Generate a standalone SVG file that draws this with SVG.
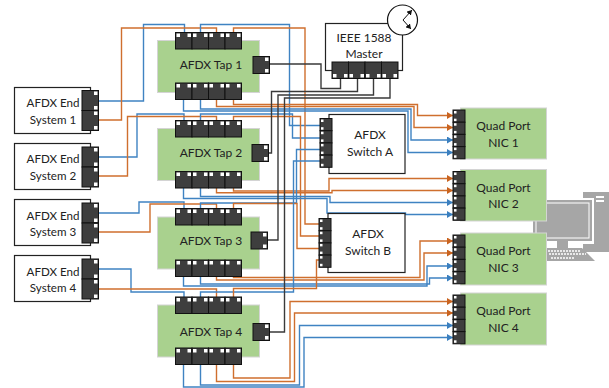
<svg xmlns="http://www.w3.org/2000/svg" width="609" height="388" viewBox="0 0 609 388">
<style>
text{font-family:Lato,"Liberation Sans",sans-serif;font-size:12px;fill:#222;text-anchor:middle}
.e{font-size:11.6px}
.g{fill:#a9d18e;stroke:#d4d4d4;stroke-width:1}
.b{fill:#fff;stroke:#222;stroke-width:1.2}
#connectors polyline{fill:none;stroke-width:1.4}
.o{stroke:#cf6f2e}
.u{stroke:#3f83c2}
.k{stroke:#3a3a3a}
.pc{fill:#3e3e3e;stroke:#111;stroke-width:1}
.w{fill:#fff}
.a{fill:#a6a6a6}
</style>
<defs>
<marker id="ao" markerWidth="7" markerHeight="7" refX="6" refY="3.5" orient="auto" markerUnits="userSpaceOnUse"><path d="M0 0L6 3.5L0 7z" fill="#c9631f"/></marker>
<marker id="au" markerWidth="7" markerHeight="7" refX="6" refY="3.5" orient="auto" markerUnits="userSpaceOnUse"><path d="M0 0L6 3.5L0 7z" fill="#3a7fbf"/></marker>
<marker id="ak" markerWidth="6" markerHeight="6" refX="5" refY="3" orient="auto-start-reverse" markerUnits="userSpaceOnUse"><path d="M0 0L5 3L0 6z" fill="#111"/></marker>
<g id="pu"><rect class="pc" width="16.5" height="16.5"/><rect class="w" x="1" y="1" width="3.5" height="3.5"/><rect class="w" x="12" y="1" width="3.5" height="3.5"/></g>
<g id="pd"><rect class="pc" width="16.5" height="16.5"/><rect class="w" x="1" y="12" width="3.5" height="3.5"/><rect class="w" x="12" y="12" width="3.5" height="3.5"/></g>
<g id="pr"><rect class="pc" width="16.5" height="17"/><rect class="w" x="12" y="1" width="3.5" height="3.5"/><rect class="w" x="12" y="12.5" width="3.5" height="3.5"/></g>
<g id="pe"><rect class="pc" width="16.5" height="20"/><rect class="w" x="12" y="1" width="3.5" height="3.5"/><rect class="w" x="12" y="15.5" width="3.5" height="3.5"/></g>
<g id="pl"><rect class="pc" width="12" height="12.2"/><rect class="w" x="1" y="1" width="2.5" height="2.5"/><rect class="w" x="1" y="8.7" width="2.5" height="2.5"/></g>
<g id="q"><use href="#pl"/><use href="#pl" y="12.2"/><use href="#pl" y="24.4"/><use href="#pl" y="36.6"/></g>
<g id="t"><use href="#pu" x="175.5"/><use href="#pu" x="192"/><use href="#pu" x="208.5"/><use href="#pu" x="225"/></g>
</defs>
<g id="computer">
<rect class="a" x="583" y="192" width="26" height="60"/>
<rect class="w" x="596" y="196" width="8" height="2"/><rect class="w" x="596" y="200" width="8" height="2"/>
<rect x="531" y="198" width="63" height="46" fill="#fff"/>
<rect class="a" x="533" y="200" width="59" height="41"/>
<rect x="536" y="203" fill="none" stroke="#fff" stroke-width="1" width="53" height="35"/>
<rect class="a" x="557" y="241" width="11" height="7"/>
<path class="a" d="M546 248H582L595 261H546z"/>
<path d="M548 251H581M549 254H586M551 258H574" stroke="#fff" stroke-width="1.5" stroke-dasharray="2 1" fill="none"/>
</g>
<g id="connectors">
<polyline class="u" points="98,101 143.5,101 143.5,24.5 184.5,24.5 184.5,32"/>
<polyline class="o" points="98,120 121.5,120 121.5,28 216.5,28 216.5,32"/>
<polyline class="u" points="200.5,32 200.5,24.5 289.5,24.5 289.5,125.5 320,125.5"/>
<polyline class="o" points="233.5,32 233.5,28 305,28 305,224 319,224"/>
<polyline class="o" points="233.5,99 233.5,104.5 417.5,104.5 417.5,115.5 453,115.5" marker-end="url(#ao)"/>
<polyline class="o" points="216.5,99 216.5,106.5 414,106.5 414,127.5 453,127.5" marker-end="url(#ao)"/>
<polyline class="u" points="200.5,99 200.5,109 411,109 411,140 453,140" marker-end="url(#au)"/>
<polyline class="u" points="183.5,99 183.5,111 408,111 408,152.5 453,152.5" marker-end="url(#au)"/>
<polyline class="u" points="98,157 137,157 137,114 184,114 184,120"/>
<polyline class="o" points="98,176 127.5,176 127.5,116.5 216.5,116.5 216.5,120"/>
<polyline class="u" points="200.5,120 200.5,114 292.5,114 292.5,138 320,138"/>
<polyline class="o" points="233.5,120 233.5,116.5 300.5,116.5 300.5,236 319,236"/>
<polyline class="o" points="233.5,188 233.5,191 329,191 329,178.5 453,178.5" marker-end="url(#ao)"/>
<polyline class="o" points="216.5,188 216.5,192.7 332,192.7 332,190.5 453,190.5" marker-end="url(#ao)"/>
<polyline class="u" points="200.5,188 200.5,196.5 330,196.5 330,202.5 453,202.5" marker-end="url(#au)"/>
<polyline class="u" points="183.5,188 183.5,198.5 327,198.5 327,213 405.5,213 405.5,214.5 453,214.5" marker-end="url(#au)"/>
<polyline class="u" points="98,213 139,213 139,202 184,202 184,208"/>
<polyline class="o" points="98,232 150,232 150,204 216.5,204 216.5,208"/>
<polyline class="u" points="200.5,208 200.5,203 296.5,203 296.5,149.5 320,149.5"/>
<polyline class="o" points="233.5,208 233.5,203.5 297,203.5 297,248.5 319,248.5"/>
<polyline class="o" points="233.5,276 233.5,277.5 420,277.5 420,241 453,241" marker-end="url(#ao)"/>
<polyline class="o" points="216.5,276 216.5,280 424,280 424,253 453,253" marker-end="url(#ao)"/>
<polyline class="u" points="183.5,276 183.5,286 427,286 427,266 453,266" marker-end="url(#au)"/>
<polyline class="u" points="200.5,276 200.5,284 429.5,284 429.5,278 453,278" marker-end="url(#au)"/>
<polyline class="u" points="98,269 131,269 131,292 184,292 184,297"/>
<polyline class="o" points="98,289 216.5,289 216.5,297"/>
<polyline class="u" points="200.5,297 200.5,292 293.5,292 293.5,161 320,161"/>
<polyline class="o" points="233.5,297 233.5,288.5 316.5,288.5 316.5,260 319,260"/>
<polyline class="o" points="233.5,364 233.5,378 290,378 290,301.5 453,301.5" marker-end="url(#ao)"/>
<polyline class="o" points="216.5,364 216.5,381.5 294.5,381.5 294.5,313 453,313" marker-end="url(#ao)"/>
<polyline class="u" points="200.5,364 200.5,385 299.5,385 299.5,325.5 453,325.5" marker-end="url(#au)"/>
<polyline class="u" points="183.5,364 183.5,387 304,387 304,337.5 453,337.5" marker-end="url(#au)"/>
<polyline class="k" points="269,64 321,64 321,88.5 340.5,88.5 340.5,78"/>
<polyline class="k" points="268,153 271.5,153 271.5,91.5 357.5,91.5 357.5,78"/>
<polyline class="k" points="267,240 278,240 278,95 373.5,95 373.5,78"/>
<polyline class="k" points="269,332 284.5,332 284.5,98 390,98 390,78"/>
</g>
<g id="es1"><rect class="b" x="14.5" y="87.5" width="76" height="46"/><use href="#pe" x="82" y="90.5"/><use href="#pe" x="82" y="110.5"/><text class="e" x="53" y="107">AFDX End</text><text class="e" x="53" y="124">System 1</text></g>
<g id="es2"><rect class="b" x="14.5" y="143.5" width="76" height="46"/><use href="#pe" x="82" y="147"/><use href="#pe" x="82" y="167"/><text class="e" x="53" y="163">AFDX End</text><text class="e" x="53" y="180">System 2</text></g>
<g id="es3"><rect class="b" x="14.5" y="199.5" width="76" height="46"/><use href="#pe" x="82" y="203"/><use href="#pe" x="82" y="223"/><text class="e" x="53" y="220">AFDX End</text><text class="e" x="53" y="236">System 3</text></g>
<g id="es4"><rect class="b" x="14.5" y="255.5" width="76" height="46"/><use href="#pe" x="82" y="259"/><use href="#pe" x="82" y="279"/><text class="e" x="53" y="276">AFDX End</text><text class="e" x="53" y="292">System 4</text></g>
<g id="tap1"><rect class="g" x="157.5" y="40.5" width="102" height="52"/><use href="#t" y="32.5"/><use href="#t" y="83"/><use href="#pr" x="253" y="56.5"/><text x="211" y="69">AFDX Tap 1</text></g>
<g id="tap2"><rect class="g" x="157.5" y="128.5" width="102" height="52"/><use href="#t" y="120.5"/><use href="#t" y="171.5"/><use href="#pr" x="252" y="144.5"/><text x="211" y="157">AFDX Tap 2</text></g>
<g id="tap3"><rect class="g" x="157.5" y="217" width="102" height="52"/><use href="#t" y="208.5"/><use href="#t" y="260"/><use href="#pr" x="251" y="232"/><text x="211" y="245">AFDX Tap 3</text></g>
<g id="tap4"><rect class="g" x="157.5" y="305" width="102" height="52"/><use href="#t" y="297"/><use href="#t" y="348"/><use href="#pr" x="253" y="323.5"/><text x="211" y="336">AFDX Tap 4</text></g>
<g id="master"><rect class="b" x="325.5" y="23.5" width="77" height="47"/><use href="#pd" x="332" y="62"/><use href="#pd" x="348.5" y="62"/><use href="#pd" x="365" y="62"/><use href="#pd" x="381.5" y="62"/><text x="364" y="42">IEEE 1588</text><text x="364" y="58">Master</text>
<circle cx="402.5" cy="20" r="15" fill="#fff" stroke="#111" stroke-width="1.2"/><polyline points="412,10 403,20 411,29" fill="none" stroke="#111" stroke-width="1" marker-start="url(#ak)" marker-end="url(#ak)"/></g>
<g id="switchA"><rect class="b" x="329" y="114.5" width="76" height="59"/><use href="#q" x="320" y="118.5"/><text x="370" y="139">AFDX</text><text x="370" y="156">Switch A</text></g>
<g id="switchB"><rect class="b" x="328" y="213.5" width="77" height="59"/><use href="#q" x="319" y="218.5"/><text x="368" y="238">AFDX</text><text x="368" y="255">Switch B</text></g>
<g id="nic1"><rect class="g" x="460.5" y="108" width="86" height="51"/><use href="#q" x="453" y="110"/><text x="503.5" y="130">Quad Port</text><text x="503.5" y="146.5">NIC 1</text></g>
<g id="nic2"><rect class="g" x="460.5" y="169.5" width="86" height="51.5"/><use href="#q" x="453" y="171.5"/><text x="503.5" y="191.5">Quad Port</text><text x="503.5" y="208">NIC 2</text></g>
<g id="nic3"><rect class="g" x="460.5" y="233" width="86" height="52"/><use href="#q" x="453" y="235"/><text x="503.5" y="255">Quad Port</text><text x="503.5" y="271.5">NIC 3</text></g>
<g id="nic4"><rect class="g" x="460.5" y="293" width="86" height="52"/><use href="#q" x="453" y="295"/><text x="503.5" y="315">Quad Port</text><text x="503.5" y="331.5">NIC 4</text></g>
</svg>
